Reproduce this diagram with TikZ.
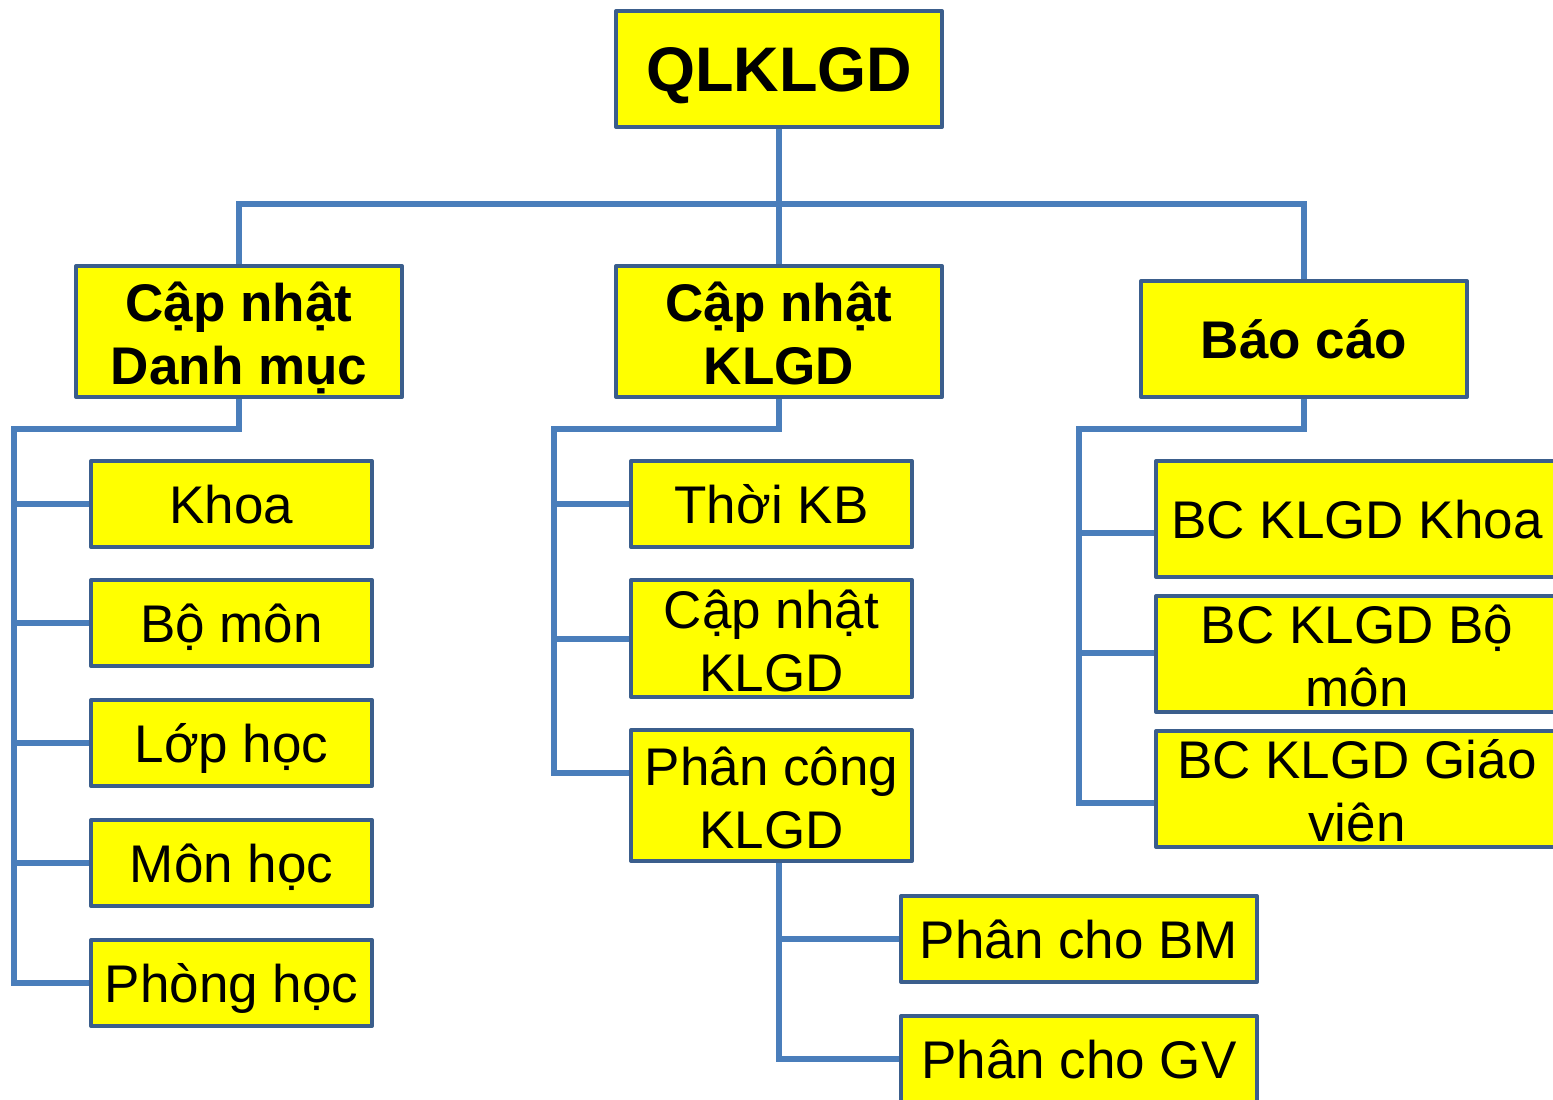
\documentclass[tikz,border=0pt]{standalone}
\usepackage{fontspec}
\setmainfont{Liberation Sans}
\definecolor{boxline}{HTML}{3B5E8C}
\definecolor{linkline}{HTML}{4A7EBB}
\definecolor{boxfill}{HTML}{FFFF00}
% two centred lines, baseline on the last line
\newcommand\twoln[2]{\begin{tabular}[b]{@{}c@{}}#1\\#2\end{tabular}}
\tikzset{
  box/.style={draw=boxline, line width=4pt, fill=boxfill, line join=round,
    inner sep=0pt, text=black},
  oneline/.style={text height=#1, text depth=0pt},
  twolines/.style={text height=105pt, text depth=0pt},
  topbox/.style={box, oneline=45pt, font=\bfseries\fontsize{63}{74}\selectfont},
  midbox/.style={box, font=\bfseries\fontsize{53}{63}\selectfont},
  leafbox/.style={box, font=\fontsize{53}{63}\selectfont},
  link/.style={draw=linkline, line width=6pt}
}
\begin{document}
\begin{tikzpicture}[x=1pt, y=-1pt]
\useasboundingbox (0,0) rectangle (1553,1100);
\clip (0,0) rectangle (1553,1100);

% bus corners
\coordinate (tb) at (779,204);
\coordinate (lb) at (14,429);
\coordinate (mb) at (554,429);
\coordinate (rb) at (1079,429);

% root
\node[topbox, minimum width=326pt, minimum height=116pt] (root) at (779,69) {QLKLGD};

% second level
\node[midbox, twolines, minimum width=326pt, minimum height=131pt] (dm) at (239,331.5) {\twoln{Cập nhật}{Danh mục}};
\node[midbox, twolines, minimum width=326pt, minimum height=131pt] (kl) at (779,331.5) {\twoln{Cập nhật}{KLGD}};
\node[midbox, oneline=38pt, minimum width=326pt, minimum height=116pt] (bc) at (1304,339) {Báo cáo};

% left column
\tikzset{lleaf/.style={leafbox, oneline=38pt, minimum width=281pt, minimum height=86pt}}
\node[lleaf] (khoa) at (231.5,504) {Khoa};
\node[lleaf] (bomon) at (231.5,623) {Bộ môn};
\node[lleaf] (lop) at (231.5,743) {Lớp học};
\node[lleaf] (mon) at (231.5,863) {Môn học};
\node[lleaf] (phong) at (231.5,983) {Phòng học};

% middle column
\node[lleaf] (tkb) at (771.5,504) {Thời KB};
\node[leafbox, twolines, minimum width=281pt, minimum height=117pt] (cnk) at (771.5,638.5) {\twoln{Cập nhật}{KLGD}};
\node[leafbox, twolines, minimum width=281pt, minimum height=131pt] (pck) at (771.5,795.5) {\twoln{Phân công}{KLGD}};
\node[leafbox, oneline=38pt, minimum width=356pt, minimum height=86pt] (pbm) at (1079,939) {Phân cho BM};
\node[leafbox, oneline=38pt, minimum width=356pt, minimum height=86pt] (pgv) at (1079,1059) {Phân cho GV};

% right column
\node[leafbox, oneline=38pt, minimum width=402pt, minimum height=116pt] (bck) at (1357,519) {BC KLGD Khoa};
\node[leafbox, twolines, minimum width=402pt, minimum height=116pt] (bcb) at (1357,654) {\twoln{BC KLGD Bộ}{môn}};
\node[leafbox, twolines, minimum width=402pt, minimum height=116pt] (bcg) at (1357,789) {\twoln{BC KLGD Giáo}{viên}};

% branch entry points
\path (pck.west) ++(0,-22.5) coordinate (pckin);
\path (bck.west) ++(0,14) coordinate (bckin);
\path (bcb.west) ++(0,-1) coordinate (bcbin);
\path (bcg.west) ++(0,14) coordinate (bcgin);
\path (pck.south) ++(7.5,0) coordinate (pb);

% connectors
\begin{scope}[link]
  \draw (root.south) -- (tb);
  \draw (dm.north) |- (tb) -| (bc.north);
  \draw (tb) -- (kl.north);
  % left tree
  \draw (dm.south) |- (lb) -- (lb |- phong.west) -- (phong.west);
  \foreach \n in {khoa,bomon,lop,mon} \draw (lb |- \n.west) -- (\n.west);
  % middle tree
  \draw (kl.south) |- (mb) -- (mb |- pckin) -- (pckin);
  \foreach \n in {tkb,cnk} \draw (mb |- \n.west) -- (\n.west);
  \draw (pb) -- (pb |- pgv.west) -- (pgv.west);
  \draw (pb |- pbm.west) -- (pbm.west);
  % right tree
  \draw (bc.south) |- (rb) -- (rb |- bcgin) -- (bcgin);
  \draw (rb |- bckin) -- (bckin);
  \draw (rb |- bcbin) -- (bcbin);
\end{scope}
\end{tikzpicture}
\end{document}
